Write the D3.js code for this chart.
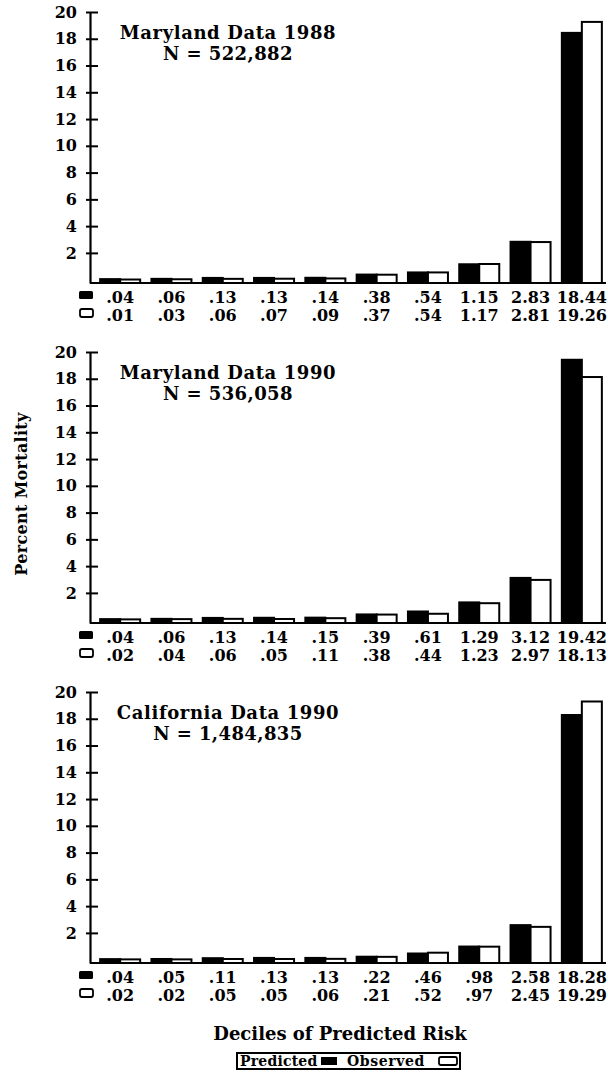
<!DOCTYPE html>
<meta charset="utf-8">
<script src="https://d3js.org/d3.v7.min.js"></script>
<style>
  body { margin: 0; background: #fff; }
  text { font-family: "DejaVu Serif", serif; font-weight: bold; fill: #000; }
</style>
<div id="my_dataviz"></div>
<script>

// deciles of predicted risk (1 = lowest ... 10 = highest)
var deciles = [1, 2, 3, 4, 5, 6, 7, 8, 9, 10];

// Maryland 1988
var md88Predicted = [.04, .06, .13, .13, .14, .38, .54, 1.15, 2.83, 18.44];
var md88Observed  = [.01, .03, .06, .07, .09, .37, .54, 1.17, 2.81, 19.26];

// Maryland 1990
var md90Predicted = [.04, .06, .13, .14, .15, .39, .61, 1.29, 3.12, 19.42];
var md90Observed  = [.02, .04, .06, .05, .11, .38, .44, 1.23, 2.97, 18.13];

// California 1990
var ca90Predicted = [.04, .05, .11, .13, .13, .22, .46, .98, 2.58, 18.28];
var ca90Observed  = [.02, .02, .05, .05, .06, .21, .52, .97, 2.45, 19.29];

var panelTitles = ["Maryland Data 1988", "Maryland Data 1990", "California Data 1990"];
var panelN = ["N = 522,882", "N = 536,058", "N = 1,484,835"];
var yTicks = [2, 4, 6, 8, 10, 12, 14, 16, 18, 20];

var panels = [
  {title: panelTitles[0], n: panelN[0], pred: md88Predicted, obs: md88Observed},
  {title: panelTitles[1], n: panelN[1], pred: md90Predicted, obs: md90Observed},
  {title: panelTitles[2], n: panelN[2], pred: ca90Predicted, obs: ca90Observed}
];

var width = 608, height = 1079;
var axisX = 90;
var panelTop = [12, 352, 692], panelH = 271;

var svg = d3.select("#my_dataviz")
  .append("svg")
    .attr("width", width)
    .attr("height", height);

var x = d3.scaleBand()
  .domain(deciles)
  .range([94.5, 607.5])
  .paddingInner(0.22)
  .paddingOuter(0.11);

var xSub = d3.scaleBand()
  .domain(["pred", "obs"])
  .range([0, x.bandwidth()]);

// labels: .04 style, no leading zero
function fmt(v) { return d3.format(".2f")(v).replace(/^0/, ""); }

panels.forEach(function(p, k) {
  var top = panelTop[k], base = top + panelH;
  // the printed baseline sits a bit below zero, so even tiny bars show
  var y = d3.scaleLinear().domain([-0.25, 20]).range([base, top]);
  var g = svg.append("g");

  // y axis: labels + ticks crossing the line
  var yAxis = g.append("g")
    .attr("transform", "translate(" + axisX + ",0)")
    .call(d3.axisLeft(y).tickValues(yTicks).tickSizeInner(4).tickSizeOuter(0).tickPadding(9));
  yAxis.select(".domain").attr("stroke-width", 2.2);
  yAxis.selectAll("line").attr("stroke-width", 2);
  yAxis.selectAll("text")
    .style("font-family", "DejaVu Serif")
    .style("font-weight", "bold")
    .style("font-size", "16px");

  g.append("g")
    .attr("transform", "translate(" + axisX + ",0)")
    .call(d3.axisRight(y).tickValues(yTicks).tickSize(8).tickFormat(""))
    .call(function(s) { s.select(".domain").remove(); })
    .selectAll("line").attr("stroke-width", 2);

  // bars
  var groups = g.selectAll("myGroups")
    .data(deciles)
    .enter().append("g")
      .attr("transform", function(d) { return "translate(" + x(d) + ",0)"; });

  groups.append("rect")
    .attr("x", xSub("pred"))
    .attr("width", xSub.bandwidth())
    .attr("y", function(d, i) { return y(p.pred[i]); })
    .attr("height", function(d, i) { return base - y(p.pred[i]); })
    .attr("fill", "#000")
    .attr("stroke", "#000")
    .attr("stroke-width", 2);

  groups.append("rect")
    .attr("x", xSub("obs"))
    .attr("width", xSub.bandwidth())
    .attr("y", function(d, i) { return y(p.obs[i]); })
    .attr("height", function(d, i) { return base - y(p.obs[i]); })
    .attr("fill", "#fff")
    .attr("stroke", "#000")
    .attr("stroke-width", 2);

  // x baseline
  g.append("line")
    .attr("x1", axisX).attr("x2", 606)
    .attr("y1", base).attr("y2", base)
    .attr("stroke", "#000").attr("stroke-width", 2.2);

  // value rows under the bars
  groups.append("text")
    .attr("x", x.bandwidth() / 2)
    .attr("y", base + 20)
    .attr("text-anchor", "middle")
    .style("font-size", "16px")
    .text(function(d, i) { return fmt(p.pred[i]); });

  groups.append("text")
    .attr("x", x.bandwidth() / 2)
    .attr("y", base + 38)
    .attr("text-anchor", "middle")
    .style("font-size", "16px")
    .text(function(d, i) { return fmt(p.obs[i]); });

  // row keys
  g.append("rect")
    .attr("x", 79).attr("y", base + 8).attr("width", 14).attr("height", 8)
    .attr("rx", 1.5).attr("fill", "#000");
  g.append("rect")
    .attr("x", 80).attr("y", base + 26).attr("width", 13).attr("height", 8)
    .attr("rx", 2).attr("fill", "#fff").attr("stroke", "#000").attr("stroke-width", 1.8);

  // title
  g.append("text")
    .attr("x", 228).attr("y", top + 27)
    .attr("text-anchor", "middle")
    .style("font-size", "18px")
    .style("letter-spacing", "0.6px")
    .text(p.title);
  g.append("text")
    .attr("x", 228).attr("y", top + 48)
    .attr("text-anchor", "middle")
    .style("font-size", "18px")
    .style("letter-spacing", "0.4px")
    .text(p.n);
});

// shared y label
svg.append("text")
  .attr("transform", "translate(27,494) rotate(-90)")
  .attr("text-anchor", "middle")
  .style("font-size", "16px")
  .style("letter-spacing", "0.3px")
  .text("Percent Mortality");

// x label
svg.append("text")
  .attr("x", 340).attr("y", 1040)
  .attr("text-anchor", "middle")
  .style("font-size", "18px")
  .text("Deciles of Predicted Risk");

// legend
var leg = svg.append("g");
leg.append("rect")
  .attr("x", 237).attr("y", 1053).attr("width", 223).attr("height", 16)
  .attr("fill", "#fff").attr("stroke", "#000").attr("stroke-width", 2);
leg.append("text")
  .attr("x", 240).attr("y", 1066)
  .style("font-size", "14px")
  .style("letter-spacing", "0.2px")
  .text("Predicted");
leg.append("rect")
  .attr("x", 321).attr("y", 1057).attr("width", 16).attr("height", 8)
  .attr("fill", "#000");
leg.append("text")
  .attr("x", 347).attr("y", 1066)
  .style("font-size", "14px")
  .style("letter-spacing", "0.6px")
  .text("Observed");
leg.append("rect")
  .attr("x", 439).attr("y", 1057).attr("width", 18).attr("height", 8)
  .attr("rx", 2).attr("fill", "#fff").attr("stroke", "#000").attr("stroke-width", 1.8);

</script>
